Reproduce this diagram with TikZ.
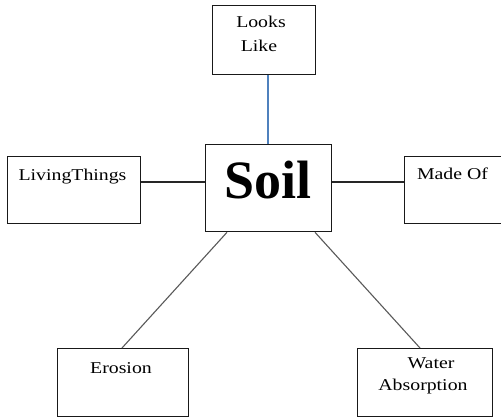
\documentclass[tikz,border=0pt]{standalone}
\usepackage{fontspec}
\setmainfont{Liberation Serif}
\newfontfamily\boxfont[FakeStretch=1.2]{Liberation Serif}
\begin{document}
\begin{tikzpicture}[x=1pt,y=-1pt,
  box/.style={draw=black!90, line width=1.3pt, fill=white, inner sep=0pt, anchor=north west},
  lbl/.style={font=\boxfont\fontsize{16.5}{20}\selectfont, anchor=base, inner sep=0pt, text=black},
  conn/.style={line width=1.1pt, draw=black!85},
  diag/.style={line width=1.1pt, draw=black!65}]
\useasboundingbox (0,0) rectangle (501,417);
\fill[white] (0,0) rectangle (501,417);
\coordinate (lk) at (268,0);
\coordinate (hy) at (0,182);
% boxes
\node[box, minimum width=103pt, minimum height=69pt] (looks) at (212,5) {};
\node[box, minimum width=126pt, minimum height=87pt] (soil) at (205,144) {};
\node[box, minimum width=133pt, minimum height=67pt] (living) at (7,156) {};
\node[box, minimum width=100pt, minimum height=67pt] (made) at (404,156) {};
\node[box, minimum width=131pt, minimum height=68pt] (erosion) at (57,348) {};
\node[box, minimum width=135pt, minimum height=68pt] (water) at (357,348) {};
\coordinate (el) at (227,0);
\coordinate (er) at (122,0);
\coordinate (wl) at (315,0);
\coordinate (wr) at (420,0);
% connectors
\draw[line width=1.1pt, draw={rgb,255:red,79;green,129;blue,189}] (looks.south -| lk) -- (soil.north -| lk);
\draw[conn] (living.east |- hy) -- (soil.west |- hy);
\draw[conn] (soil.east |- hy) -- (made.west |- hy);
\draw[diag] (soil.south -| el) -- (erosion.north -| er);
\draw[diag] (soil.south -| wl) -- (water.north -| wr);
% texts
\node[anchor=base, inner sep=0pt, font=\bfseries\fontsize{54}{60}\selectfont] (soiltext) at (268,198) {Soil};
\node[lbl] (t1) at (261,28) {Looks};
\node[lbl] (t2) at (259,52) {Like};
\node[lbl] (t3) at (72.5,181) {LivingThings};
\node[lbl] (t4) at (452.5,180) {Made Of};
\node[lbl] (t5) at (121,373) {Erosion};
\node[lbl] (t6) at (431,368) {Water};
\node[lbl] (t7) at (423,390) {Absorption};
\end{tikzpicture}
\end{document}
